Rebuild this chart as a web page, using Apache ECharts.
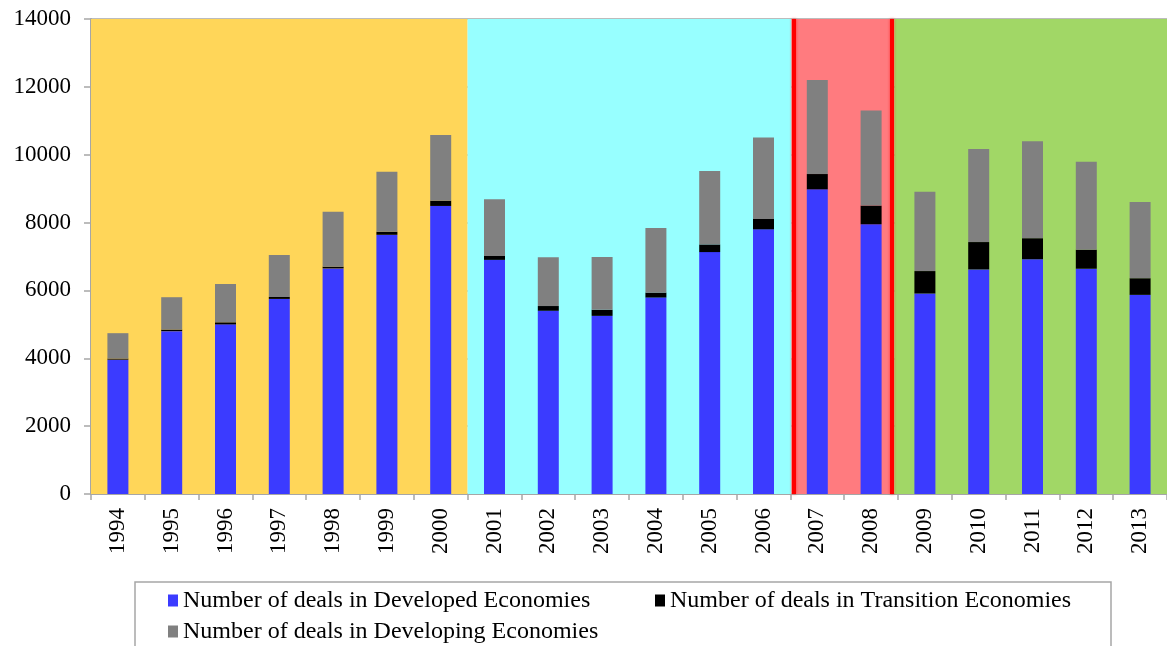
<!DOCTYPE html>
<html lang="en">

<head>
    <meta charset="UTF-8">
    <title>Number of deals by economy group</title>
    <script src="https://cdn.jsdelivr.net/npm/echarts@6/dist/echarts.min.js"></script>
    <style>
        * {
            padding: 0;
            margin: 0;
        }

        #chart {
            width: 1167px;
            height: 646px;
            background: #fff;
        }
    </style>
</head>

<body>
    <div id="chart"></div>
    <script type="text/javascript">
        // data
        var years = ['1994', '1995', '1996', '1997', '1998', '1999', '2000', '2001', '2002', '2003',
            '2004', '2005', '2006', '2007', '2008', '2009', '2010', '2011', '2012', '2013'];
        var developed = [3960, 4800, 5000, 5750, 6650, 7640, 8490, 6900, 5400, 5250,
            5790, 7130, 7800, 8980, 7950, 5910, 6620, 6920, 6640, 5870];
        var transition = [30, 45, 60, 60, 50, 90, 155, 115, 140, 180,
            145, 225, 305, 450, 550, 660, 805, 620, 560, 490];
        var developing = [750, 955, 1130, 1235, 1620, 1770, 1935, 1675, 1440, 1555,
            1905, 2165, 2405, 2770, 2800, 2340, 2745, 2860, 2595, 2245];
        var yTicks = [0, 2000, 4000, 6000, 8000, 10000, 12000, 14000];

        // background periods, in category units along the x axis
        var periodStart = [0, 7, 13.02, 14.93];
        var periodEnd = [7, 13.02, 14.93, 20];
        var periodColor = ['#ffd659', '#97ffff', '#ff7b7f', '#a1d766'];
        // red edges of the crisis period
        var crisisEdges = [13.07, 14.88];

        var names = ['Number of deals in Developed Economies',
            'Number of deals in Transition Economies',
            'Number of deals in Developing Economies'];
        var colors = ['#3b3bff', '#000000', '#808080'];

        var myChart = echarts.init(document.getElementById('chart'));

        var bands = [];
        for (var i = 0; i < periodStart.length; i++) {
            bands.push([
                { xAxis: periodStart[i], itemStyle: { color: periodColor[i] } },
                { xAxis: periodEnd[i] }
            ]);
        }

        var font = 'Liberation Serif';

        option = {
            animation: false,
            grid: {
                left: 91,
                right: 0,
                top: 19,
                bottom: 152
            },
            legend: {
                left: 135,
                top: 582,
                orient: 'horizontal',
                width: 1000,
                itemGap: 6,
                itemWidth: 10,
                itemHeight: 12,
                icon: 'rect',
                borderColor: '#a6a6a6',
                borderWidth: 1.5,
                padding: [6, 34, 30, 33],
                textStyle: {
                    fontFamily: font,
                    fontSize: 24,
                    color: '#000',
                    lineHeight: 25,
                    width: 466
                },
                data: [
                    { name: names[0] },
                    { name: names[1], textStyle: { width: 407 } },
                    { name: names[2] }
                ]
            },
            xAxis: [{
                type: 'category',
                data: years,
                axisLine: { lineStyle: { color: '#a6a6a6', width: 2 } },
                axisTick: { show: true, length: 6, lineStyle: { color: '#a6a6a6', width: 1.5 } },
                axisLabel: {
                    rotate: 90,
                    margin: 14,
                    fontFamily: font,
                    fontSize: 23,
                    color: '#000'
                }
            }, {
                type: 'value',
                min: 0,
                max: 20,
                show: false
            }],
            yAxis: {
                type: 'value',
                min: yTicks[0],
                max: yTicks[yTicks.length - 1],
                interval: 2000,
                axisLine: { show: true, lineStyle: { color: '#a6a6a6', width: 2 } },
                axisTick: { show: true, length: 7, lineStyle: { color: '#a6a6a6', width: 1.5 } },
                splitLine: { lineStyle: { color: '#a6a6a6', width: 1.5 } },
                axisLabel: {
                    margin: 20,
                    fontFamily: font,
                    fontSize: 23,
                    color: '#000',
                    formatter: function (v) { return String(v); }
                }
            },
            series: [{
                // background colour bands, drawn under the grid lines
                type: 'line',
                xAxisIndex: 1,
                z: -1,
                silent: true,
                data: [],
                markArea: {
                    silent: true,
                    data: bands
                }
            }, {
                type: 'line',
                xAxisIndex: 1,
                silent: true,
                data: [],
                markLine: {
                    silent: true,
                    symbol: 'none',
                    label: { show: false },
                    lineStyle: {
                        type: 'solid',
                        color: '#ff0000',
                        width: 4,
                        shadowColor: 'rgba(255,0,0,0.6)',
                        shadowBlur: 3
                    },
                    data: crisisEdges.map(function (x) { return { xAxis: x }; })
                }
            }, {
                name: names[0],
                type: 'bar',
                stack: 'deals',
                barWidth: 21,
                itemStyle: { color: colors[0] },
                data: developed
            }, {
                name: names[1],
                type: 'bar',
                stack: 'deals',
                barWidth: 21,
                itemStyle: { color: colors[1] },
                data: transition
            }, {
                name: names[2],
                type: 'bar',
                stack: 'deals',
                barWidth: 21,
                itemStyle: { color: colors[2] },
                data: developing
            }]
        };

        myChart.setOption(option);
    </script>
</body>

</html>
